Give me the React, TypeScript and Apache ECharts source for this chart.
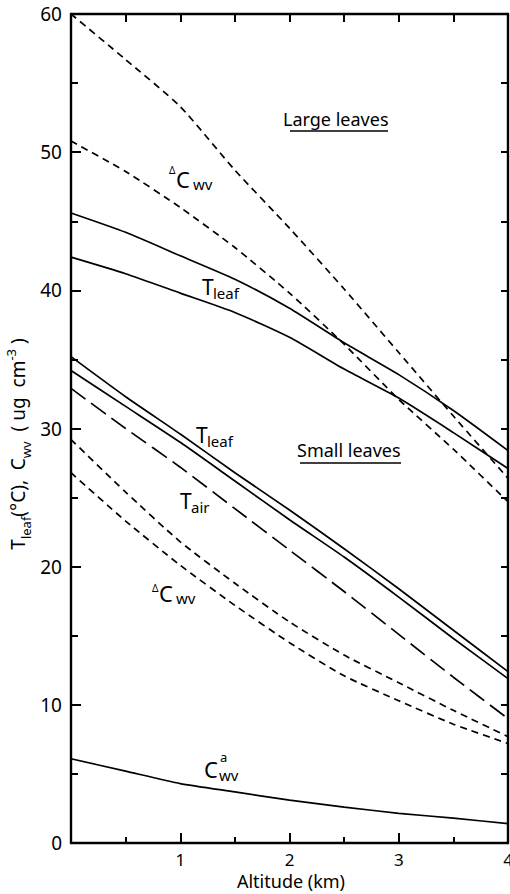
import React, { useEffect, useRef } from "react";
import * as echarts from "echarts";

// Altitude (km) sample points
const altitudeKm = [0, 0.5, 1, 1.5, 2, 2.5, 3, 3.5, 4];

// Large leaves
const largeDeltaCwvUpper = [60, 56.7, 53.3, 48.7, 44.5, 40.1, 35.5, 30.9, 26.4];
const largeDeltaCwvLower = [50.8, 48.6, 46.0, 43.1, 39.8, 36.1, 32.1, 28.5, 24.7];
const largeTleafUpper = [45.6, 44.2, 42.5, 40.8, 38.7, 36.2, 33.9, 31.3, 28.4];
const largeTleafLower = [42.4, 41.2, 39.8, 38.4, 36.6, 34.3, 32.2, 29.7, 27.1];

// Small leaves
const smallTleafUpper = [35.2, 32.3, 29.6, 26.8, 24.1, 21.3, 18.4, 15.4, 12.4];
const smallTleafLower = [34.2, 31.6, 29.0, 26.2, 23.4, 20.7, 17.8, 14.8, 11.9];
const tAir = [32.9, 30.0, 27.2, 24.2, 21.2, 18.2, 15.1, 12.0, 9.0];
const smallDeltaCwvUpper = [29.2, 25.4, 21.8, 18.8, 16.0, 13.6, 11.6, 9.6, 7.7];
const smallDeltaCwvLower = [26.8, 23.3, 20.1, 17.2, 14.5, 12.1, 10.3, 8.6, 7.2];

// Ambient water vapour concentration
const cwvAmbient = [6.1, 5.2, 4.3, 3.7, 3.1, 2.6, 2.15, 1.8, 1.4];

const FONT = "Noto Sans";
const INK = "#000000";

export default function App() {
  const ref = useRef<HTMLDivElement>(null);

  useEffect(() => {
    if (!ref.current) return;
    const chart = echarts.init(ref.current, null, { renderer: "svg" });
    const pair = (ys: number[]) => altitudeKm.map((x, i) => [x, ys[i]]);
    const SHORT = [7, 5];
    const LONG = [18, 7];
    const mk = (name: string, ys: number[], type: any) => ({
      type: "line",
      name,
      data: pair(ys),
      symbol: "none",
      showSymbol: false,
      smooth: 0.2,
      lineStyle: { color: INK, width: 1.7, type },
    });

    const txt = (text: string, x: number, y: number, size: number, extra: any = {}) => ({
      type: "text",
      x,
      y,
      silent: true,
      style: {
        text,
        fill: INK,
        fontSize: size,
        fontFamily: FONT,
        lineHeight: size,
        align: "left",
        verticalAlign: "middle",
        textAlign: "left",
        textVerticalAlign: "middle",
        ...extra,
      },
    });
    const uline = (x1: number, x2: number, y: number) => ({
      type: "line",
      silent: true,
      shape: { x1, y1: y, x2, y2: y },
      style: { stroke: INK, lineWidth: 1.6 },
    });

    const axisLine = () => ({ show: true, onZero: false, lineStyle: { color: INK, width: 2.4 } });
    const tick = (len: number) => ({ show: true, inside: true, length: len, lineStyle: { color: INK, width: 2 } });

    chart.setOption({
      animation: false,
      grid: {
        left: 71,
        right: 2,
        top: 14,
        bottom: 51,
        outerBoundsMode: "none",
      },
      xAxis: [
        {
          type: "value",
          position: "bottom",
          min: 0,
          max: 4,
          interval: 1,
          axisLine: axisLine(),
          axisTick: tick(10),
          minorTick: { show: true, splitNumber: 2, length: 6, lineStyle: { color: INK, width: 2 } },
          splitLine: { show: false },
          axisLabel: {
            formatter: (v: number) => (v === 0 ? "" : String(v)),
            fontSize: 17,
            fontFamily: FONT,
            color: INK,
            margin: 8,
          },
        },
        {
          type: "value",
          position: "top",
          min: 0,
          max: 4,
          interval: 0.5,
          axisLine: axisLine(),
          axisTick: tick(8),
          splitLine: { show: false },
          axisLabel: { show: false },
        },
      ],
      yAxis: [
        {
          type: "value",
          position: "left",
          min: 0,
          max: 60,
          interval: 10,
          axisLine: axisLine(),
          axisTick: tick(10),
          minorTick: { show: true, splitNumber: 2, length: 7, lineStyle: { color: INK, width: 2 } },
          splitLine: { show: false },
          axisLabel: { fontSize: 19, fontFamily: FONT, color: INK, margin: 9 },
        },
        {
          type: "value",
          position: "right",
          min: 0,
          max: 60,
          interval: 5,
          axisLine: axisLine(),
          axisTick: tick(7),
          splitLine: { show: false },
          axisLabel: { show: false },
        },
      ],
      series: [
        mk("Large ΔCwv upper", largeDeltaCwvUpper, SHORT),
        mk("Large ΔCwv lower", largeDeltaCwvLower, SHORT),
        mk("Large Tleaf upper", largeTleafUpper, "solid"),
        mk("Large Tleaf lower", largeTleafLower, "solid"),
        mk("Small Tleaf upper", smallTleafUpper, "solid"),
        mk("Small Tleaf lower", smallTleafLower, "solid"),
        mk("Tair", tAir, LONG),
        mk("Small ΔCwv upper", smallDeltaCwvUpper, SHORT),
        mk("Small ΔCwv lower", smallDeltaCwvLower, SHORT),
        mk("Cwv ambient", cwvAmbient, "solid"),
      ],
      graphic: [
        {
          type: "text",
          x: 18,
          y: 444,
          rotation: Math.PI / 2,
          silent: true,
          style: {
            text: "{m|T}{s|leaf}{m|(°C),  C}{s|wv}{m|  ( ug  cm}{p|-3}{m| )}",
            fill: INK,
            fontFamily: FONT,
            fontSize: 19,
            align: "center",
            verticalAlign: "middle",
            textAlign: "center",
            textVerticalAlign: "middle",
            rich: {
              m: { fontSize: 19, fontFamily: FONT, fill: INK, lineHeight: 28, verticalAlign: "middle" },
              s: { fontSize: 13, fontFamily: FONT, fill: INK, lineHeight: 15, verticalAlign: "bottom" },
              p: { fontSize: 13, fontFamily: FONT, fill: INK, lineHeight: 15, verticalAlign: "top" },
            },
          },
        },
        txt("Altitude (km)", 291, 881, 18, { align: "center", textAlign: "center" }),
        txt("Large leaves", 283, 119, 18),
        uline(290, 388, 131),
        txt("Δ", 169, 170, 10),
        txt("C", 176, 179, 22),
        txt("wv", 193, 184, 15),
        txt("T", 202, 287, 21),
        txt("leaf", 213, 293, 15),
        txt("T", 196, 435, 21),
        txt("leaf", 207, 441, 15),
        txt("Small leaves", 297, 450, 18),
        uline(300, 401, 463),
        txt("T", 180, 501, 21),
        txt("air", 191, 507, 15),
        txt("Δ", 152, 588, 10),
        txt("C", 159, 593, 22),
        txt("wv", 176, 598, 15),
        txt("C", 204, 769, 22),
        txt("a", 220, 757, 13),
        txt("wv", 219, 775, 15),
      ],
    });

    return () => chart.dispose();
  }, []);

  return (
    <div
      ref={ref}
      style={{ position: "fixed", left: 0, top: 0, width: 510, height: 894, background: "#fff" }}
    />
  );
}
